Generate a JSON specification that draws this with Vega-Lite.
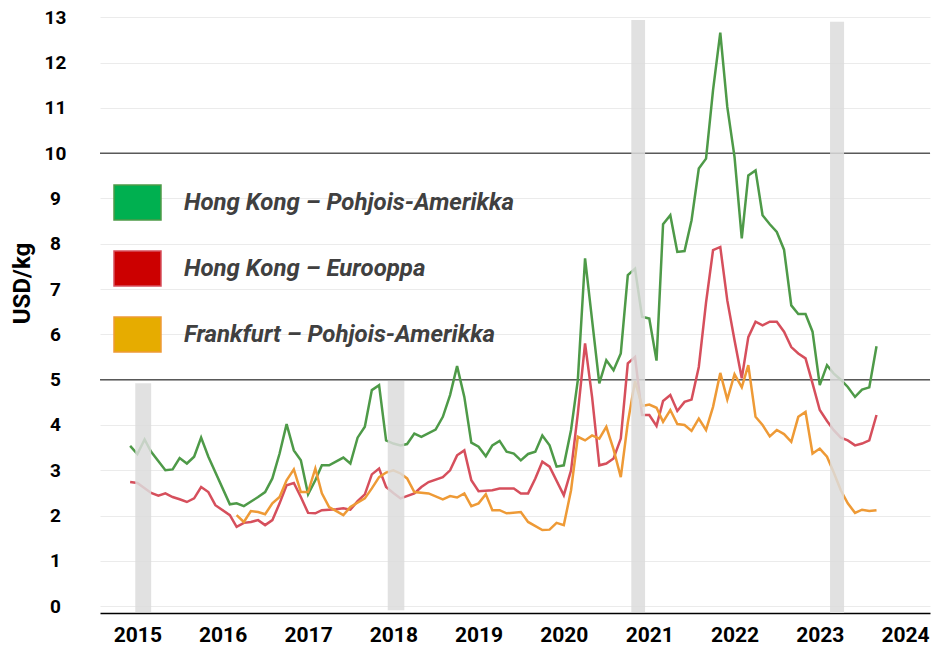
{
  "$schema": "https://vega.github.io/schema/vega-lite/v6.json",
  "width": 830,
  "height": 598,
  "autosize": {"type": "none"},
  "padding": {"left": 100, "top": 15, "right": 1, "bottom": 35},
  "background": "white",
  "config": {
    "view": {"stroke": null},
    "axisY": {"titleFont": "Roboto", "titleFontWeight": "bold", "titleFontSize": 24, "titleColor": "#000000"}
  },
  "datasets": {
    "refs": [{"y": 5}, {"y": 10}],
    "bars": [
      {"a": "2014-12-23", "b": "2015-03-01", "lo": -0.13, "hi": 4.92},
      {"a": "2017-12-08", "b": "2018-02-17", "lo": -0.09, "hi": 4.97},
      {"a": "2020-10-16", "b": "2020-12-14", "lo": -0.13, "hi": 12.94},
      {"a": "2023-02-14", "b": "2023-04-15", "lo": -0.15, "hi": 12.9}
    ],
    "g": [
      {"d": "2014-12", "v": 3.54}, {"d": "2015-01", "v": 3.36}, {"d": "2015-02", "v": 3.68}, {"d": "2015-03", "v": 3.41},
      {"d": "2015-05", "v": 3.00}, {"d": "2015-06", "v": 3.02}, {"d": "2015-07", "v": 3.27}, {"d": "2015-08", "v": 3.15},
      {"d": "2015-09", "v": 3.30}, {"d": "2015-10", "v": 3.72}, {"d": "2015-11", "v": 3.30}, {"d": "2016-02", "v": 2.25},
      {"d": "2016-03", "v": 2.27}, {"d": "2016-04", "v": 2.21}, {"d": "2016-06", "v": 2.41}, {"d": "2016-07", "v": 2.52},
      {"d": "2016-08", "v": 2.82}, {"d": "2016-09", "v": 3.37}, {"d": "2016-10", "v": 4.02}, {"d": "2016-11", "v": 3.44},
      {"d": "2016-12", "v": 3.22}, {"d": "2017-01", "v": 2.47}, {"d": "2017-02", "v": 2.78}, {"d": "2017-03", "v": 3.11},
      {"d": "2017-04", "v": 3.11}, {"d": "2017-06", "v": 3.28}, {"d": "2017-07", "v": 3.15}, {"d": "2017-08", "v": 3.72},
      {"d": "2017-09", "v": 3.96}, {"d": "2017-10", "v": 4.77}, {"d": "2017-11", "v": 4.88}, {"d": "2017-12", "v": 3.66},
      {"d": "2018-01", "v": 3.59}, {"d": "2018-02", "v": 3.55}, {"d": "2018-03", "v": 3.58}, {"d": "2018-04", "v": 3.81},
      {"d": "2018-05", "v": 3.74}, {"d": "2018-07", "v": 3.90}, {"d": "2018-08", "v": 4.18}, {"d": "2018-09", "v": 4.66},
      {"d": "2018-10", "v": 5.30}, {"d": "2018-11", "v": 4.62}, {"d": "2018-12", "v": 3.61}, {"d": "2019-01", "v": 3.52},
      {"d": "2019-02", "v": 3.31}, {"d": "2019-03", "v": 3.55}, {"d": "2019-04", "v": 3.65}, {"d": "2019-05", "v": 3.41},
      {"d": "2019-06", "v": 3.37}, {"d": "2019-07", "v": 3.22}, {"d": "2019-08", "v": 3.36}, {"d": "2019-09", "v": 3.41},
      {"d": "2019-10", "v": 3.77}, {"d": "2019-11", "v": 3.55}, {"d": "2019-12", "v": 3.08}, {"d": "2020-01", "v": 3.11},
      {"d": "2020-02", "v": 3.89}, {"d": "2020-03", "v": 4.99}, {"d": "2020-04", "v": 7.68}, {"d": "2020-06", "v": 4.92},
      {"d": "2020-07", "v": 5.43}, {"d": "2020-08", "v": 5.21}, {"d": "2020-09", "v": 5.58}, {"d": "2020-10", "v": 7.31},
      {"d": "2020-11", "v": 7.45}, {"d": "2020-12", "v": 6.39}, {"d": "2021-01", "v": 6.35}, {"d": "2021-02", "v": 5.42},
      {"d": "2021-03", "v": 8.43}, {"d": "2021-04", "v": 8.63}, {"d": "2021-05", "v": 7.82}, {"d": "2021-06", "v": 7.84},
      {"d": "2021-07", "v": 8.52}, {"d": "2021-08", "v": 9.66}, {"d": "2021-09", "v": 9.88}, {"d": "2021-10", "v": 11.39},
      {"d": "2021-11", "v": 12.66}, {"d": "2021-12", "v": 11.02}, {"d": "2022-01", "v": 9.92}, {"d": "2022-02", "v": 8.12},
      {"d": "2022-03", "v": 9.51}, {"d": "2022-04", "v": 9.62}, {"d": "2022-05", "v": 8.63}, {"d": "2022-06", "v": 8.43},
      {"d": "2022-07", "v": 8.26}, {"d": "2022-08", "v": 7.87}, {"d": "2022-09", "v": 6.64}, {"d": "2022-10", "v": 6.45},
      {"d": "2022-11", "v": 6.45}, {"d": "2022-12", "v": 6.06}, {"d": "2023-01", "v": 4.88}, {"d": "2023-02", "v": 5.32},
      {"d": "2023-03", "v": 5.14}, {"d": "2023-04", "v": 5.00}, {"d": "2023-05", "v": 4.84}, {"d": "2023-06", "v": 4.62},
      {"d": "2023-07", "v": 4.78}, {"d": "2023-08", "v": 4.83}, {"d": "2023-09", "v": 5.74}
    ],
    "r": [
      {"d": "2014-12", "v": 2.74}, {"d": "2015-01", "v": 2.72}, {"d": "2015-03", "v": 2.50}, {"d": "2015-04", "v": 2.44},
      {"d": "2015-05", "v": 2.49}, {"d": "2015-06", "v": 2.41}, {"d": "2015-07", "v": 2.36}, {"d": "2015-08", "v": 2.30},
      {"d": "2015-09", "v": 2.38}, {"d": "2015-10", "v": 2.63}, {"d": "2015-11", "v": 2.52}, {"d": "2015-12", "v": 2.23},
      {"d": "2016-02", "v": 2.01}, {"d": "2016-03", "v": 1.75}, {"d": "2016-04", "v": 1.84}, {"d": "2016-05", "v": 1.86},
      {"d": "2016-06", "v": 1.90}, {"d": "2016-07", "v": 1.79}, {"d": "2016-08", "v": 1.90}, {"d": "2016-09", "v": 2.27},
      {"d": "2016-10", "v": 2.67}, {"d": "2016-11", "v": 2.72}, {"d": "2016-12", "v": 2.41}, {"d": "2017-01", "v": 2.06},
      {"d": "2017-02", "v": 2.05}, {"d": "2017-03", "v": 2.12}, {"d": "2017-05", "v": 2.14}, {"d": "2017-06", "v": 2.16},
      {"d": "2017-07", "v": 2.13}, {"d": "2017-08", "v": 2.32}, {"d": "2017-09", "v": 2.47}, {"d": "2017-10", "v": 2.91},
      {"d": "2017-11", "v": 3.04}, {"d": "2017-12", "v": 2.63}, {"d": "2018-01", "v": 2.50}, {"d": "2018-02", "v": 2.38},
      {"d": "2018-04", "v": 2.49}, {"d": "2018-05", "v": 2.63}, {"d": "2018-06", "v": 2.74}, {"d": "2018-08", "v": 2.85},
      {"d": "2018-09", "v": 3.00}, {"d": "2018-10", "v": 3.33}, {"d": "2018-11", "v": 3.44}, {"d": "2018-12", "v": 2.78},
      {"d": "2019-01", "v": 2.54}, {"d": "2019-03", "v": 2.56}, {"d": "2019-04", "v": 2.60}, {"d": "2019-06", "v": 2.60},
      {"d": "2019-07", "v": 2.49}, {"d": "2019-08", "v": 2.49}, {"d": "2019-09", "v": 2.82}, {"d": "2019-10", "v": 3.19},
      {"d": "2019-11", "v": 3.08}, {"d": "2020-01", "v": 2.45}, {"d": "2020-02", "v": 3.00}, {"d": "2020-03", "v": 4.25},
      {"d": "2020-04", "v": 5.80}, {"d": "2020-05", "v": 4.62}, {"d": "2020-06", "v": 3.11}, {"d": "2020-07", "v": 3.15},
      {"d": "2020-08", "v": 3.26}, {"d": "2020-09", "v": 3.70}, {"d": "2020-10", "v": 5.36}, {"d": "2020-11", "v": 5.50},
      {"d": "2020-12", "v": 4.22}, {"d": "2021-01", "v": 4.22}, {"d": "2021-02", "v": 3.98}, {"d": "2021-03", "v": 4.53},
      {"d": "2021-04", "v": 4.66}, {"d": "2021-05", "v": 4.31}, {"d": "2021-06", "v": 4.51}, {"d": "2021-07", "v": 4.56},
      {"d": "2021-08", "v": 5.28}, {"d": "2021-09", "v": 6.70}, {"d": "2021-10", "v": 7.86}, {"d": "2021-11", "v": 7.93},
      {"d": "2021-12", "v": 6.75}, {"d": "2022-01", "v": 5.87}, {"d": "2022-02", "v": 5.03}, {"d": "2022-03", "v": 5.94},
      {"d": "2022-04", "v": 6.28}, {"d": "2022-05", "v": 6.20}, {"d": "2022-06", "v": 6.28}, {"d": "2022-07", "v": 6.28},
      {"d": "2022-08", "v": 6.06}, {"d": "2022-09", "v": 5.72}, {"d": "2022-10", "v": 5.58}, {"d": "2022-11", "v": 5.47},
      {"d": "2022-12", "v": 4.92}, {"d": "2023-01", "v": 4.33}, {"d": "2023-02", "v": 4.09}, {"d": "2023-03", "v": 3.89},
      {"d": "2023-04", "v": 3.72}, {"d": "2023-05", "v": 3.66}, {"d": "2023-06", "v": 3.55}, {"d": "2023-07", "v": 3.59},
      {"d": "2023-08", "v": 3.66}, {"d": "2023-09", "v": 4.22}
    ],
    "o": [
      {"d": "2016-03", "v": 2.01}, {"d": "2016-04", "v": 1.86}, {"d": "2016-05", "v": 2.10}, {"d": "2016-06", "v": 2.08},
      {"d": "2016-07", "v": 2.03}, {"d": "2016-08", "v": 2.27}, {"d": "2016-09", "v": 2.41}, {"d": "2016-10", "v": 2.78},
      {"d": "2016-11", "v": 3.02}, {"d": "2016-12", "v": 2.52}, {"d": "2017-01", "v": 2.52}, {"d": "2017-02", "v": 3.04},
      {"d": "2017-03", "v": 2.49}, {"d": "2017-04", "v": 2.19}, {"d": "2017-06", "v": 2.01}, {"d": "2017-07", "v": 2.19},
      {"d": "2017-09", "v": 2.38}, {"d": "2017-10", "v": 2.60}, {"d": "2017-11", "v": 2.85}, {"d": "2017-12", "v": 2.95},
      {"d": "2018-01", "v": 3.00}, {"d": "2018-02", "v": 2.93}, {"d": "2018-03", "v": 2.82}, {"d": "2018-04", "v": 2.52},
      {"d": "2018-06", "v": 2.49}, {"d": "2018-08", "v": 2.36}, {"d": "2018-09", "v": 2.43}, {"d": "2018-10", "v": 2.40},
      {"d": "2018-11", "v": 2.49}, {"d": "2018-12", "v": 2.21}, {"d": "2019-01", "v": 2.27}, {"d": "2019-02", "v": 2.47},
      {"d": "2019-03", "v": 2.12}, {"d": "2019-04", "v": 2.12}, {"d": "2019-05", "v": 2.05}, {"d": "2019-07", "v": 2.08},
      {"d": "2019-08", "v": 1.86}, {"d": "2019-10", "v": 1.68}, {"d": "2019-11", "v": 1.69}, {"d": "2019-12", "v": 1.84},
      {"d": "2020-01", "v": 1.79}, {"d": "2020-02", "v": 2.56}, {"d": "2020-03", "v": 3.74}, {"d": "2020-04", "v": 3.66},
      {"d": "2020-05", "v": 3.77}, {"d": "2020-06", "v": 3.70}, {"d": "2020-07", "v": 3.96}, {"d": "2020-08", "v": 3.46},
      {"d": "2020-09", "v": 2.85}, {"d": "2020-10", "v": 4.05}, {"d": "2020-11", "v": 4.97}, {"d": "2020-12", "v": 4.42},
      {"d": "2021-01", "v": 4.45}, {"d": "2021-02", "v": 4.38}, {"d": "2021-03", "v": 4.07}, {"d": "2021-04", "v": 4.33},
      {"d": "2021-05", "v": 4.02}, {"d": "2021-06", "v": 4.00}, {"d": "2021-07", "v": 3.87}, {"d": "2021-08", "v": 4.14},
      {"d": "2021-09", "v": 3.89}, {"d": "2021-10", "v": 4.40}, {"d": "2021-11", "v": 5.15}, {"d": "2021-12", "v": 4.56},
      {"d": "2022-01", "v": 5.12}, {"d": "2022-02", "v": 4.83}, {"d": "2022-03", "v": 5.32}, {"d": "2022-04", "v": 4.18},
      {"d": "2022-05", "v": 4.00}, {"d": "2022-06", "v": 3.75}, {"d": "2022-07", "v": 3.89}, {"d": "2022-08", "v": 3.80},
      {"d": "2022-09", "v": 3.63}, {"d": "2022-10", "v": 4.18}, {"d": "2022-11", "v": 4.29}, {"d": "2022-12", "v": 3.37},
      {"d": "2023-01", "v": 3.48}, {"d": "2023-02", "v": 3.30}, {"d": "2023-03", "v": 2.96}, {"d": "2023-04", "v": 2.56},
      {"d": "2023-05", "v": 2.27}, {"d": "2023-06", "v": 2.06}, {"d": "2023-07", "v": 2.13}, {"d": "2023-08", "v": 2.10},
      {"d": "2023-09", "v": 2.12}
    ]
  },
  "layer": [
    {
      "data": {"name": "refs"},
      "mark": {"type": "rule", "color": "#595959", "strokeWidth": 1.5},
      "encoding": {
        "y": {
          "field": "y", "type": "quantitative", "title": "USD/kg",
          "scale": {"domain": [-0.15, 13.05], "nice": false, "zero": false},
          "axis": {
            "values": [0, 1, 2, 3, 4, 5, 6, 7, 8, 9, 10, 11, 12, 13],
            "grid": true, "gridColor": "#ebebeb", "gridWidth": 1,
            "ticks": false, "domain": false,
            "labelAlign": "center", "labelPadding": 45,
            "labelFont": "Roboto", "labelFontWeight": "bold", "labelFontSize": 19, "labelColor": "#000000",
            "titleFont": "Roboto", "titleFontWeight": "bold", "titleFontSize": 24, "titleColor": "#000000",
            "titleAngle": -90, "titleX": -78, "titleY": 268, "titleBaseline": "middle", "titleAlign": "center"
          }
        }
      }
    },
    {
      "data": {"name": "g"},
      "mark": {"type": "line", "strokeWidth": 2.5, "interpolate": "linear"},
      "encoding": {
        "x": {
          "field": "d", "type": "temporal", "title": null,
          "scale": {"domain": [{"year": 2014, "month": 7, "date": 25}, {"year": 2024, "month": 4, "date": 17}], "nice": false},
          "axis": {
            "format": "%Y", "tickCount": {"interval": "year", "step": 1},
            "grid": false, "ticks": false, "domain": true, "domainColor": "#000000", "domainWidth": 1.5,
            "labelPadding": 11, "labelFont": "Roboto",
            "labelFontSize": 21, "labelFontWeight": "bold", "labelColor": "#000000",
            "labelFlush": false, "labelOverlap": false
          }
        },
        "y": {"field": "v", "type": "quantitative", "title": "USD/kg"},
        "color": {
          "datum": "Hong Kong – Pohjois-Amerikka",
          "scale": {
            "domain": ["Hong Kong – Pohjois-Amerikka", "Hong Kong – Eurooppa", "Frankfurt – Pohjois-Amerikka"],
            "range": ["#4E9A48", "#D64F5C", "#EE9A36"]
          },
          "legend": {
            "orient": "none", "legendX": 13, "legendY": 163, "title": null, "padding": 0,
            "symbolType": "M-1,-0.745H1V0.745H-1Z", "symbolSize": 2209, "symbolStrokeWidth": 1.5,
            "labelFont": "Roboto", "labelFontSize": 24, "labelFontWeight": "bold", "labelFontStyle": "italic",
            "labelColor": "#404040", "labelOffset": 22, "rowPadding": 20, "labelLimit": 600,
            "encode": {
              "symbols": {
                "update": {
                  "fill": {"signal": "datum.value === 'Hong Kong – Eurooppa' ? '#CC0000' : datum.value === 'Frankfurt – Pohjois-Amerikka' ? '#E6AC00' : '#00B050'"},
                  "stroke": {"value": "#3E6494"},
                  "strokeWidth": {"value": 1.5},
                  "opacity": {"value": 1},
                  "fillOpacity": {"value": 1}
                }
              }
            }
          }
        }
      }
    },
    {
      "data": {"name": "r"},
      "mark": {"type": "line", "strokeWidth": 2.5, "interpolate": "linear"},
      "encoding": {
        "x": {"field": "d", "type": "temporal", "title": null},
        "y": {"field": "v", "type": "quantitative", "title": "USD/kg"},
        "color": {"datum": "Hong Kong – Eurooppa"}
      }
    },
    {
      "data": {"name": "o"},
      "mark": {"type": "line", "strokeWidth": 2.5, "interpolate": "linear"},
      "encoding": {
        "x": {"field": "d", "type": "temporal", "title": null},
        "y": {"field": "v", "type": "quantitative", "title": "USD/kg"},
        "color": {"datum": "Frankfurt – Pohjois-Amerikka"}
      }
    },
    {
      "data": {"name": "bars"},
      "mark": {"type": "rect", "color": "#dcdcdc", "opacity": 0.85},
      "encoding": {
        "x": {"field": "a", "type": "temporal", "title": null},
        "x2": {"field": "b"},
        "y": {"field": "lo", "type": "quantitative", "title": "USD/kg"},
        "y2": {"field": "hi"}
      }
    }
  ]
}
